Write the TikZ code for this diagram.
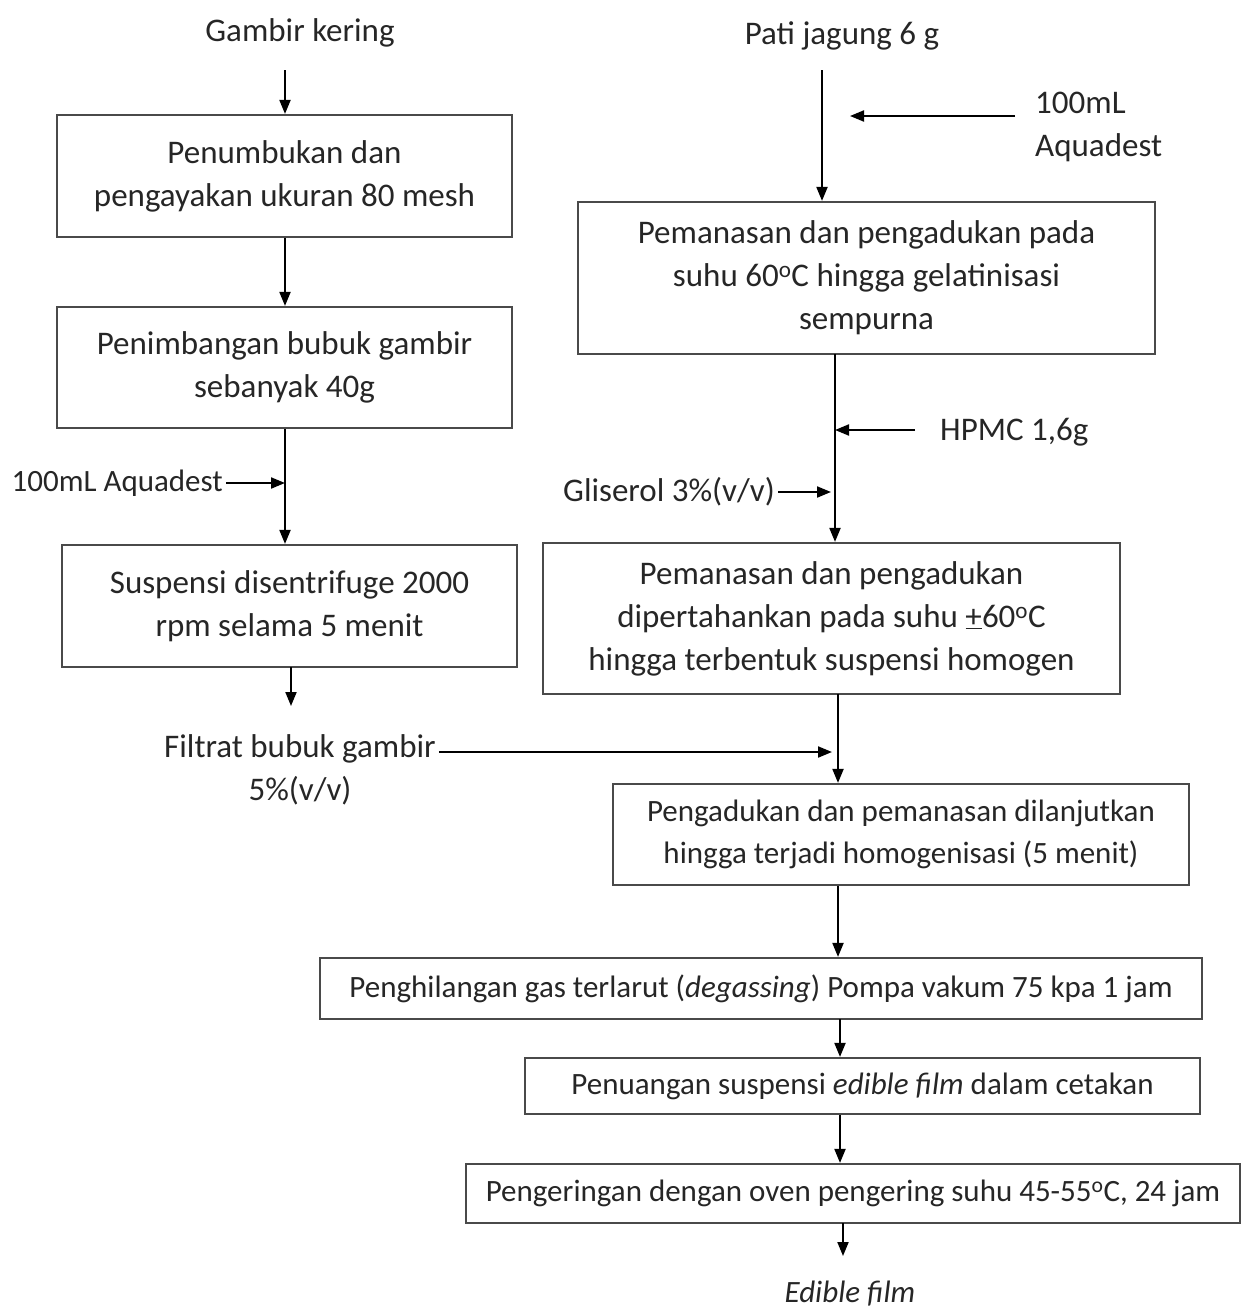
\documentclass[tikz,border=0pt]{standalone}
\usepackage{fontspec}
\setmainfont{Carlito}
\usetikzlibrary{positioning, arrows.meta}
\definecolor{ink}{HTML}{262626}
\definecolor{frame}{HTML}{4A4A4A}
\newcommand{\degC}{\textsuperscript{o}C}

\begin{document}
\begin{tikzpicture}[x=1pt, y=-1pt,
  box/.style={rectangle, draw=frame, line width=2.2pt, fill=white, text=ink,
    align=center, inner sep=0pt, font=\fontsize{33}{43}\selectfont},
  slim/.style={box, font=\fontsize{31}{42}\selectfont},
  lbl/.style={text=ink, inner sep=3pt, font=\fontsize{33}{43}\selectfont},
  arr/.style={-{Triangle[length=14pt, width=11pt]}, draw=black, line width=2pt}
]
\useasboundingbox (0,0) rectangle (1244,1309);

\node[lbl] (gambir) at (300,33) {Gambir kering};
\node[box, minimum width=455pt, minimum height=122pt] (tumbuk) at (284.5,176) {Penumbukan dan\\pengayakan ukuran 80 mesh};
\node[box, minimum width=455pt, minimum height=121pt] (timbang) at (284.5,367.5) {Penimbangan bubuk gambir\\sebanyak 40g};
\node[lbl, anchor=east, font=\fontsize{31}{43}\selectfont] (aqkiri) at (226,483) {100mL Aquadest};
\node[box, minimum width=455pt, minimum height=122pt] (sentri) at (289.5,606) {Suspensi disentrifuge 2000\\rpm selama 5 menit};
\node[lbl, align=center] (filtrat) at (300,770) {Filtrat bubuk gambir\\5\%(v/v)};

\node[lbl] (pati) at (842,36) {Pati jagung 6 g};
\node[lbl, anchor=west, align=left] (aqkanan) at (1032,127) {100mL\\Aquadest};
\node[box, minimum width=577pt, minimum height=152pt] (gelat) at (866.5,278) {Pemanasan dan pengadukan pada\\suhu 60\degC{} hingga gelatinisasi\\sempurna};
\node[lbl, anchor=west] (hpmc) at (937,432) {HPMC 1,6g};
\node[lbl, anchor=east] (glis) at (778,492) {Gliserol 3\%(v/v)};
\node[box, minimum width=577pt, minimum height=151pt] (homog) at (831.5,618.5) {Pemanasan dan pengadukan\\dipertahankan pada suhu \underline{+}60\degC\\hingga terbentuk suspensi homogen};
\node[slim, minimum width=576pt, minimum height=101pt] (lanjut) at (901,834.5) {Pengadukan dan pemanasan dilanjutkan\\hingga terjadi homogenisasi (5 menit)};
\node[slim, minimum width=882pt, minimum height=61pt] (degas) at (761,988.5) {Penghilangan gas terlarut (\textit{degassing}) Pompa vakum 75 kpa 1 jam};
\node[slim, minimum width=675pt, minimum height=56pt] (tuang) at (862.5,1086) {Penuangan suspensi \textit{edible film} dalam cetakan};
\node[slim, minimum width=774pt, minimum height=59pt] (kering) at (853,1193.5) {Pengeringan dengan oven pengering suhu 45-55\degC, 24 jam};
\node[lbl, font=\fontsize{31}{36}\selectfont\itshape] (film) at (850,1294) {Edible film};

\coordinate (g0) at (285,70);
\coordinate (s0) at (291,667);
\coordinate (s1) at (291,706);
\coordinate (f1) at (832,752);
\coordinate (p0) at (822,70);
\coordinate (a0) at (1015,116);
\coordinate (a1) at (850,116);
\coordinate (v1) at (835,354);
\coordinate (h0) at (915,430);
\coordinate (v2) at (838,694);
\coordinate (v3) at (840,1019);
\coordinate (v4) at (843,1223);
\coordinate (v5) at (843,1256);

\draw[arr] (g0) -- (g0 |- tumbuk.north);
\draw[arr] (g0 |- tumbuk.south) -- (g0 |- timbang.north);
\draw[arr] (g0 |- timbang.south) -- (g0 |- sentri.north);
\draw[arr] (aqkiri.east) -- (aqkiri.east -| g0);
\draw[arr] (s0) -- (s1);
\draw[arr] (filtrat.east |- f1) -- (f1);

\draw[arr] (p0) -- (p0 |- gelat.north);
\draw[arr] (a0) -- (a1);
\draw[arr] (v1) -- (v1 |- homog.north);
\draw[arr] (h0) -- (h0 -| v1);
\draw[arr, shorten >=4pt] (glis.east) -- (glis.east -| v1);
\draw[arr] (v2) -- (v2 |- lanjut.north);
\draw[arr] (v2 |- lanjut.south) -- (v2 |- degas.north);
\draw[arr] (v3) -- (v3 |- tuang.north);
\draw[arr] (v3 |- tuang.south) -- (v3 |- kering.north);
\draw[arr] (v4) -- (v5);
\end{tikzpicture}
\end{document}
